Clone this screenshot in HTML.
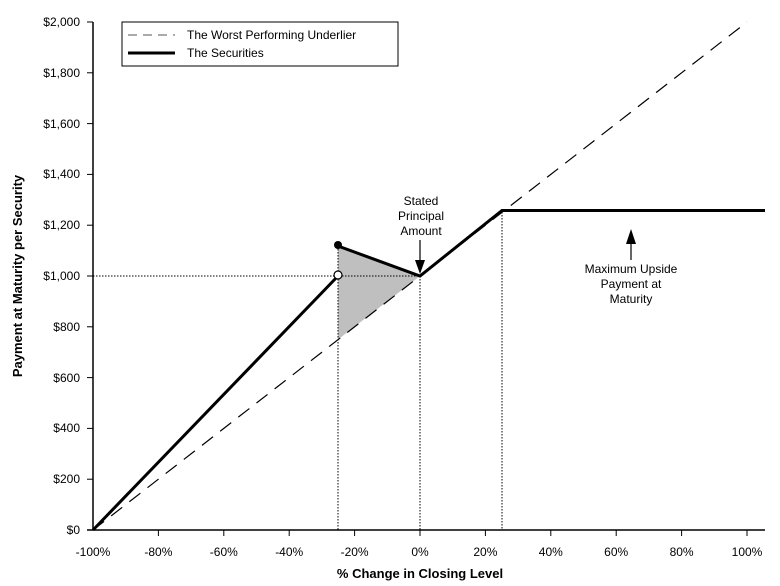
<!DOCTYPE html>
<html><head><meta charset="utf-8"><style>body{margin:0;background:#fff}svg{display:block}text{font-family:"Liberation Sans",Arial,sans-serif;fill:#000}</style></head>
<body>
<svg width="780" height="586" viewBox="0 0 780 586">
<polygon points="338,246 420,276 338,339.5" fill="#bfbfbf"/>
<g stroke="#000" stroke-width="1" stroke-dasharray="1.5,1.5" fill="none">
<line x1="93" y1="276" x2="420" y2="276"/>
<line x1="338" y1="246" x2="338" y2="530"/>
<line x1="420" y1="276" x2="420" y2="530"/>
<line x1="502" y1="212" x2="502" y2="530"/>
</g>
<line x1="93" y1="530" x2="747" y2="22" stroke="#000" stroke-width="1.2" stroke-dasharray="14,9"/>
<polyline points="93,530 338,276" fill="none" stroke="#000" stroke-width="3"/>
<polyline points="338,246 420,276 502,210.5 765,210.5" fill="none" stroke="#000" stroke-width="3"/>
<circle cx="338" cy="245" r="4" fill="#000"/>
<circle cx="338" cy="275" r="4" fill="#fff" stroke="#000" stroke-width="1.2"/>
<g stroke="#000" stroke-width="1.5">
<line x1="93" y1="22" x2="93" y2="530"/>
<line x1="87" y1="530" x2="765" y2="530"/>
</g>
<g stroke="#000" stroke-width="1">
<line x1="87" y1="22" x2="93" y2="22"/><line x1="87" y1="72.8" x2="93" y2="72.8"/><line x1="87" y1="123.6" x2="93" y2="123.6"/><line x1="87" y1="174.4" x2="93" y2="174.4"/><line x1="87" y1="225.2" x2="93" y2="225.2"/><line x1="87" y1="276" x2="93" y2="276"/><line x1="87" y1="326.8" x2="93" y2="326.8"/><line x1="87" y1="377.6" x2="93" y2="377.6"/><line x1="87" y1="428.4" x2="93" y2="428.4"/><line x1="87" y1="479.2" x2="93" y2="479.2"/>
<line x1="158.4" y1="530" x2="158.4" y2="536"/><line x1="223.8" y1="530" x2="223.8" y2="536"/><line x1="289.2" y1="530" x2="289.2" y2="536"/><line x1="354.6" y1="530" x2="354.6" y2="536"/><line x1="420" y1="530" x2="420" y2="536"/><line x1="485.4" y1="530" x2="485.4" y2="536"/><line x1="550.8" y1="530" x2="550.8" y2="536"/><line x1="616.2" y1="530" x2="616.2" y2="536"/><line x1="681.6" y1="530" x2="681.6" y2="536"/><line x1="747" y1="530" x2="747" y2="536"/>
</g>
<g font-size="12" text-anchor="end">
<text x="80" y="26">$2,000</text><text x="80" y="77">$1,800</text><text x="80" y="128">$1,600</text><text x="80" y="178">$1,400</text><text x="80" y="229">$1,200</text><text x="80" y="280">$1,000</text><text x="80" y="331">$800</text><text x="80" y="382">$600</text><text x="80" y="432">$400</text><text x="80" y="483">$200</text><text x="80" y="534">$0</text>
</g>
<g font-size="12" text-anchor="middle">
<text x="93" y="556">-100%</text><text x="158.4" y="556">-80%</text><text x="223.8" y="556">-60%</text><text x="289.2" y="556">-40%</text><text x="354.6" y="556">-20%</text><text x="420" y="556">0%</text><text x="485.4" y="556">20%</text><text x="550.8" y="556">40%</text><text x="616.2" y="556">60%</text><text x="681.6" y="556">80%</text><text x="747" y="556">100%</text>
</g>
<text x="420" y="578" font-size="13" font-weight="bold" text-anchor="middle">% Change in Closing Level</text>
<text transform="translate(22,276) rotate(-90)" font-size="13" font-weight="bold" text-anchor="middle">Payment at Maturity per Security</text>
<rect x="122" y="22" width="276" height="44" fill="#fff" stroke="#000" stroke-width="1"/>
<line x1="128" y1="35" x2="175" y2="35" stroke="#555" stroke-width="1" stroke-dasharray="9,6"/>
<line x1="128" y1="53" x2="175" y2="53" stroke="#000" stroke-width="3"/>
<text x="187" y="39" font-size="12">The Worst Performing Underlier</text>
<text x="187" y="57" font-size="12">The Securities</text>
<g font-size="12" text-anchor="middle">
<text x="421" y="205">Stated</text><text x="421" y="220">Principal</text><text x="421" y="235">Amount</text>
<text x="631" y="273">Maximum Upside</text><text x="631" y="288">Payment at</text><text x="631" y="303">Maturity</text>
</g>
<line x1="420" y1="240" x2="420" y2="262" stroke="#000" stroke-width="1.2"/>
<polygon points="415,260 425,260 420,274" fill="#000"/>
<line x1="631" y1="243" x2="631" y2="260" stroke="#000" stroke-width="1.2"/>
<polygon points="626,244 636,244 631,229" fill="#000"/>
</svg>
</body></html>
